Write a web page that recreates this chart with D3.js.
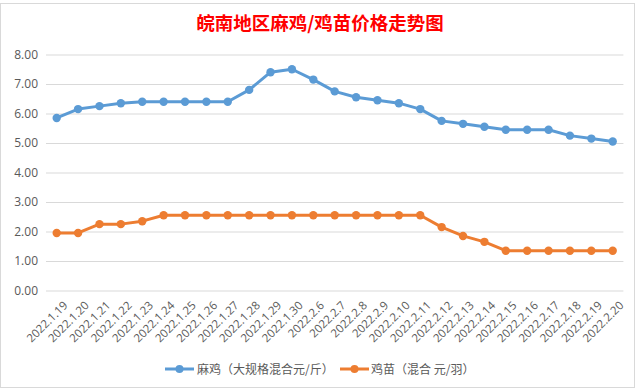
<!DOCTYPE html>
<html><head><meta charset="utf-8">
<script src="https://cdn.jsdelivr.net/npm/d3@7/dist/d3.min.js"></script>
<style>body{margin:0;background:#fff;}svg{display:block;}</style>
</head><body>
<svg id="c" width="641" height="391"></svg>
<script>
const title = "皖南地区麻鸡/鸡苗价格走势图";
const categories = ["2022.1.19","2022.1.20","2022.1.21","2022.1.22","2022.1.23","2022.1.24","2022.1.25","2022.1.26","2022.1.27","2022.1.28","2022.1.29","2022.1.30","2022.2.6","2022.2.7","2022.2.8","2022.2.9","2022.2.10","2022.2.11","2022.2.12","2022.2.13","2022.2.14","2022.2.15","2022.2.16","2022.2.17","2022.2.18","2022.2.19","2022.2.20"];
const maji = [5.85,6.15,6.25,6.35,6.4,6.4,6.4,6.4,6.4,6.8,7.4,7.5,7.15,6.75,6.55,6.45,6.35,6.15,5.75,5.65,5.55,5.45,5.45,5.45,5.25,5.15,5.05];
const jimiao = [1.95,1.95,2.25,2.25,2.35,2.55,2.55,2.55,2.55,2.55,2.55,2.55,2.55,2.55,2.55,2.55,2.55,2.55,2.15,1.85,1.65,1.35,1.35,1.35,1.35,1.35,1.35];
const seriesNames = ["麻鸡（大规格混合元/斤）","鸡苗（混合 元/羽）"];
const yTicks = [0,1,2,3,4,5,6,7,8];
const colors = ["#5b9bd5","#ed7d31"];

const svg = d3.select("#c");
const font = "'Noto Sans CJK SC','Microsoft YaHei',sans-serif";
svg.append("rect").attr("x",0.5).attr("y",3.5).attr("width",634).attr("height",384)
  .attr("fill","#fff").attr("stroke","#d9d9d9");

svg.append("text").attr("x",320).attr("y",29.5).attr("text-anchor","middle")
  .attr("font-family","'Noto Sans CJK SC',serif").attr("font-weight","bold")
  .attr("font-size",18.5).attr("fill","#ff0000").text(title);

const x = d3.scaleBand().domain(categories).range([46,623.4]);
const y = d3.scaleLinear().domain([0,8]).range([290.5,54.5]);

const yAxis = svg.append("g").attr("transform","translate(46,0)")
  .call(d3.axisLeft(y).tickValues(yTicks).tickFormat(d3.format(".2f")).tickSize(-577.4).tickPadding(8));
yAxis.select(".domain").remove();
yAxis.selectAll(".tick line").attr("stroke","#d9d9d9");
yAxis.selectAll(".tick text").attr("font-family","'Open Sans',"+font).attr("font-size",12).attr("fill","#595959");

const xAxis = svg.append("g").attr("transform","translate(0,290.5)")
  .call(d3.axisBottom(x).tickSize(0).tickPadding(0));
xAxis.select(".domain").remove();
xAxis.selectAll(".tick text")
  .attr("font-family","'Open Sans',"+font).attr("font-size",11.5).attr("fill","#595959")
  .attr("text-anchor","end").attr("dy","0.7em")
  .attr("transform","translate(6,10) rotate(-45)");

const line = d3.line().x((d,i)=>x(categories[i])+x.bandwidth()/2).y(d=>y(d));
[maji,jimiao].forEach((s,k)=>{
  svg.append("path").datum(s).attr("d",line).attr("fill","none")
    .attr("stroke",colors[k]).attr("stroke-width",3).attr("stroke-linejoin","round");
  svg.append("g").selectAll("circle").data(s).join("circle")
    .attr("cx",(d,i)=>x(categories[i])+x.bandwidth()/2).attr("cy",d=>y(d))
    .attr("r",4.2).attr("fill",colors[k]);
});

const legendItems = [{x:165,tx:197},{x:340,tx:371}];
legendItems.forEach((L,k)=>{
  const g = svg.append("g");
  g.append("line").attr("x1",L.x).attr("x2",L.x+29).attr("y1",369).attr("y2",369)
    .attr("stroke",colors[k]).attr("stroke-width",3);
  g.append("circle").attr("cx",L.x+14.5).attr("cy",369).attr("r",4).attr("fill",colors[k]);
  g.append("text").attr("x",L.tx).attr("y",373.5).attr("font-family",font)
    .attr("font-size",12).attr("fill","#595959").text(seriesNames[k]);
});
</script>
</body></html>
